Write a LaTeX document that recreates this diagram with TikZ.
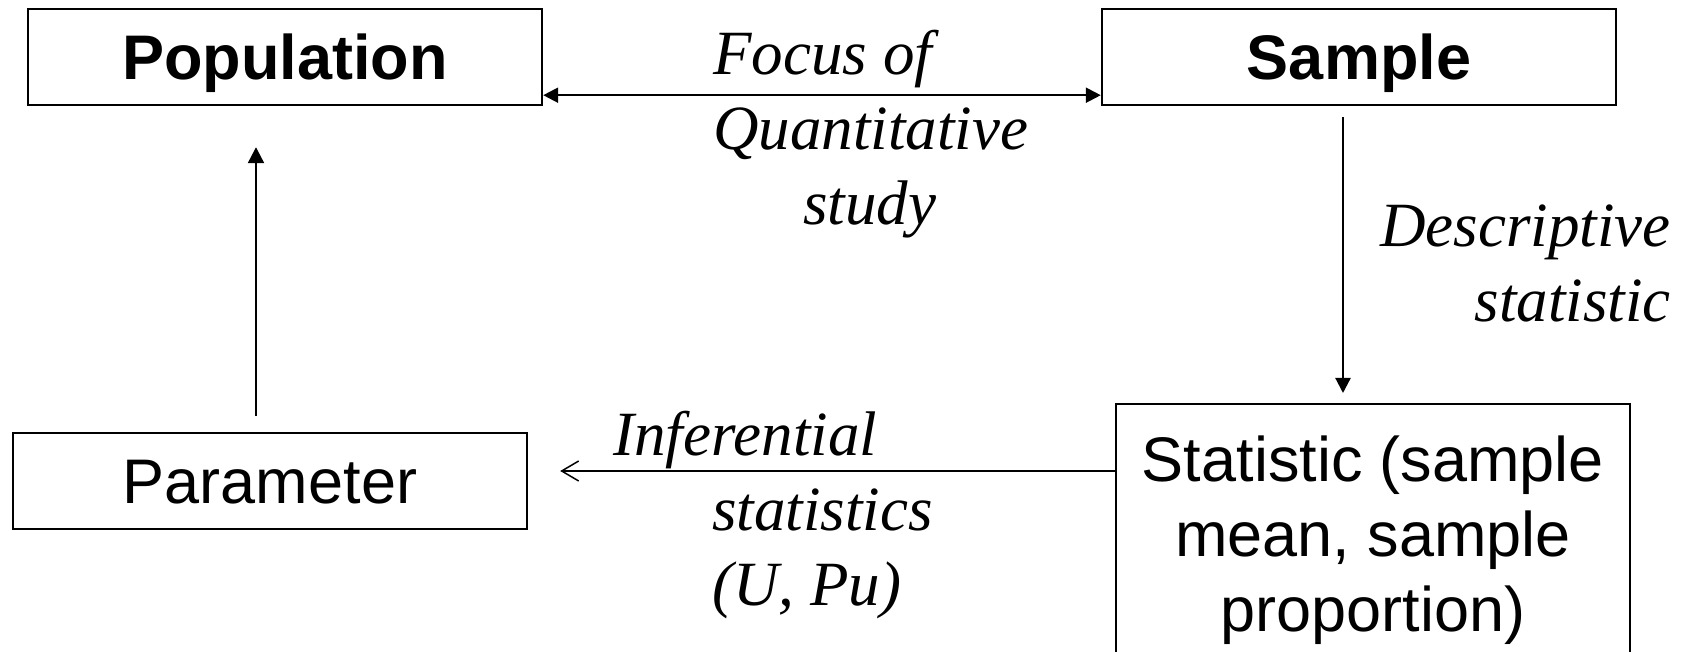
\documentclass[tikz,border=0pt]{standalone}
\usepackage{fontspec}
\setmainfont{Liberation Serif}
\setsansfont{Liberation Sans}
\usetikzlibrary{arrows.meta}
\begin{document}
\begin{tikzpicture}[x=0.5pt,y=-0.5pt,
  sfbig/.style={font=\sffamily\fontsize{31.5pt}{37.5pt}\selectfont},
  sfbold/.style={font=\sffamily\bfseries\fontsize{31.5pt}{37.5pt}\selectfont},
  box/.style={draw,line width=1.2pt,inner sep=0pt,minimum width=257pt,minimum height=48pt,text height=22.6pt,text depth=0pt},
  lbl/.style={font=\rmfamily\itshape\fontsize{31.5pt}{37.5pt}\selectfont,inner sep=0pt},
  tri/.style={-{Triangle[length=7.5pt,width=7.5pt]},line width=1.1pt}]
\clip (0,0) rectangle (1694,652);
\fill[white] (0,0) rectangle (1694,652);
\node[box,sfbold] (pop) at (285,57) {Population};
\node[box,sfbold] (sam) at (1359,57) {Sample};
\node[box,sfbig] (param) at (270,481) {Parameter};
\node[draw,line width=1.2pt,anchor=north,inner sep=0pt,minimum width=257pt,align=center,sfbig,text height=113.5pt,text depth=30pt] (stat) at (1373,403) {Statistic (sample\\mean, sample\\proportion)};
% connectors
\draw[line width=1.1pt,{Triangle[length=7.5pt,width=7.5pt]}-{Triangle[length=7.5pt,width=7.5pt]}] ([yshift=5.5pt]pop.south east) -- ([yshift=5.5pt]sam.south west);
\coordinate (dtop) at ([xshift=-8pt]sam.south);
\draw[tri,shorten <=5.5pt,shorten >=5pt] (dtop) -- (dtop |- stat.north);
\coordinate (ubot) at ([xshift=-7pt]param.north);
\draw[line width=1.1pt,-{Triangle[length=8pt,width=8pt]},shorten <=8pt,shorten >=20.5pt] (ubot) -- (ubot |- pop.south);
\coordinate (iright) at ([yshift=-34pt]stat.north west);
\draw[line width=0.75pt,-{Straight Barb[length=8.5pt,width=10pt]},shorten >=16pt] (iright) -- (iright -| param.east);
% labels
\node[lbl,anchor=base west,align=left] (focus) at (713,225) {Focus of\\Quantitative\\\hspace*{45pt}study};
\node[lbl,anchor=base east,align=right] (desc) at (1671,322) {Descriptive\\statistic};
\node[lbl,anchor=base west,align=left] (infer) at (613,605) {Inferential\\\hspace*{49.5pt}statistics\\\hspace*{49.5pt}(U, Pu)};
\end{tikzpicture}
\end{document}
